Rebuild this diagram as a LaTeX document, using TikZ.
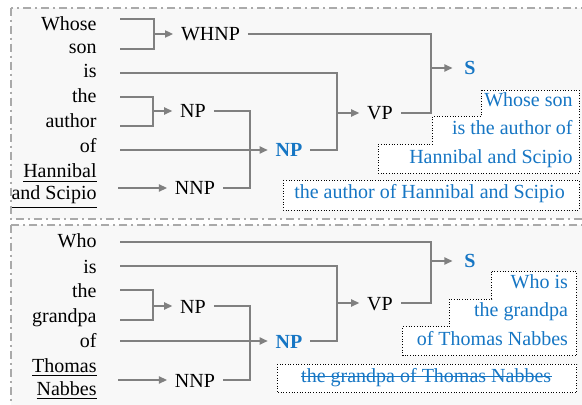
\documentclass[tikz,border=0pt]{standalone}
\usepackage{fontspec}
\setmainfont{Liberation Serif}
\usetikzlibrary{arrows.meta}
\definecolor{lnk}{RGB}{128,128,128}
\definecolor{blu}{RGB}{22,118,196}
\definecolor{frm}{RGB}{170,170,170}
\definecolor{pan}{RGB}{248,248,248}
\begin{document}
\begin{tikzpicture}[x=0.5pt,y=-0.5pt,
  font=\fontsize{10}{12}\selectfont,
  word/.style={anchor=east,inner sep=0pt,text height=7pt,text depth=2pt},
  phr/.style={inner xsep=4pt,inner ysep=0pt,outer sep=0pt,text height=7pt,text depth=0pt},
  bphr/.style={phr,text=blu,font=\fontsize{10}{12}\selectfont\bfseries},
  ann/.style={anchor=east,inner sep=0pt,text=blu,text height=7pt,text depth=2pt},
  ln/.style={draw=lnk,line width=0.65pt},
  arr/.style={ln,-{Triangle[length=4pt,width=3.6pt]}},
  panel/.style={draw=frm,fill=pan,line width=0.6pt,dash pattern=on 4pt off 2pt on 1pt off 2pt},
  box/.style={draw=black,fill=white,line width=0.45pt,dash pattern=on 0.45pt off 0.9pt}
]
\clip (0,0) rectangle (582,405);
\fill[white] (0,0) rectangle (582,405);
% panels
\path[panel] (11,8) rectangle (620,219);
\path[panel] (11,225) rectangle (620,430);

% ================= top panel =================
\node[word] (w1) at (97,26) {Whose};
\node[word] (w2) at (97,49) {son};
\node[word] (w3) at (97,73) {is};
\node[word] (w4) at (97,98) {the};
\node[word] (w5) at (97,123) {author};
\node[word] (w6) at (97,148) {of};
\node[word] (w7) at (97,173) {\underline{Hannibal}};
\node[word] (w8) at (97,195) {\underline{and Scipio}};

\node[phr] (whnp) at (210.5,34) {WHNP};
\node[phr] (npa) at (193,111) {NP};
\node[phr] (nnpa) at (195,188) {NNP};
\node[bphr] (npba) at (289,150) {NP};
\node[phr] (vpa) at (380,113) {VP};
\node[bphr,inner xsep=6pt] (sa) at (470,68) {S};

\coordinate (a1) at (120,19);
\coordinate (a2) at (120,49);
\coordinate (a3) at (120,73);
\coordinate (a4) at (120,97);
\coordinate (a5) at (120,126);
\coordinate (a6) at (120,150);
\coordinate (a7) at (118,188);
\coordinate (k1) at (154,34);
\coordinate (k3) at (431,68);
\coordinate (k4) at (337,113);
\coordinate (k5) at (153,111);
\coordinate (k6) at (250,150);

\draw[ln] (a1) -| (k1) |- (a2);
\draw[arr] (k1) -- (whnp.west);
\draw[ln] (whnp.east) -| (k3) |- (vpa.east);
\draw[arr] (k3) -- (sa.west);
\draw[ln] (a3) -| (k4) |- (npba.east);
\draw[arr] (k4) -- (vpa.west);
\draw[ln] (a4) -| (k5) |- (a5);
\draw[arr] (k5) -- (npa.west);
\draw[ln] (npa.east) -| (k6) |- (nnpa.east);
\draw[arr] (a6) -- (npba.west);
\draw[arr] (a7) -- (nnpa.west);

\path[box] (481.7,90) -- (579,90) -- (579,173.3) -- (378.3,173.3) -- (378.3,144)
  -- (432.7,144) -- (432.7,116) -- (481.7,116) -- cycle;
\node[ann] (t1) at (573,101.7) {Whose son};
\node[ann] (t2) at (573,130) {is the author of};
\node[ann] (t3) at (573,158.3) {Hannibal and Scipio};
\path[box] (283.3,180) rectangle (579,210);
\node[ann,anchor=center] (t4) at (429.5,194) {the author of Hannibal and Scipio};

% ================= bottom panel =================
\node[word] (v1) at (97,243) {Who};
\node[word] (v2) at (97,268) {is};
\node[word] (v3) at (97,292) {the};
\node[word] (v4) at (97,317) {grandpa};
\node[word] (v5) at (97,342) {of};
\node[word] (v6) at (97,367) {\underline{Thomas}};
\node[word] (v7) at (97,390) {\underline{Nabbes}};

\node[phr] (npb) at (193,306) {NP};
\node[phr] (nnpb) at (195,380) {NNP};
\node[bphr] (npbb) at (289,341) {NP};
\node[phr] (vpb) at (380,303) {VP};
\node[bphr,inner xsep=6pt] (sb) at (470,261) {S};

\coordinate (b1) at (120,242);
\coordinate (b2) at (120,266);
\coordinate (b3) at (120,290);
\coordinate (b4) at (120,320);
\coordinate (b6) at (120,341);
\coordinate (b7) at (118,380);
\coordinate (m3) at (431,261);
\coordinate (m4) at (337,303);
\coordinate (m5) at (153,306);
\coordinate (m6) at (250,341);

\draw[ln] (b1) -| (m3) |- (vpb.east);
\draw[arr] (m3) -- (sb.west);
\draw[ln] (b2) -| (m4) |- (npbb.east);
\draw[arr] (m4) -- (vpb.west);
\draw[ln] (b3) -| (m5) |- (b4);
\draw[arr] (m5) -- (npb.west);
\draw[ln] (npb.east) -| (m6) |- (nnpb.east);
\draw[arr] (b6) -- (npbb.west);
\draw[arr] (b7) -- (nnpb.west);

\path[box] (491.7,271.7) -- (576.7,271.7) -- (576.7,355.7) -- (402.7,355.7) -- (402.7,326.7)
  -- (449.3,326.7) -- (449.3,299) -- (491.7,299) -- cycle;
\node[ann] (u1) at (568.3,283.3) {Who is};
\node[ann] (u2) at (568.3,311.7) {the grandpa};
\node[ann] (u3) at (568.3,340.7) {of Thomas Nabbes};
\path[box] (277,364) rectangle (576.7,392.7);
\node[ann,anchor=center] (u4) at (426.2,377.5) {the grandpa of Thomas Nabbes};
\draw[blu,line width=0.5pt] (u4.west |- 0,376.5) -- (u4.east |- 0,376.5);
\end{tikzpicture}
\end{document}
